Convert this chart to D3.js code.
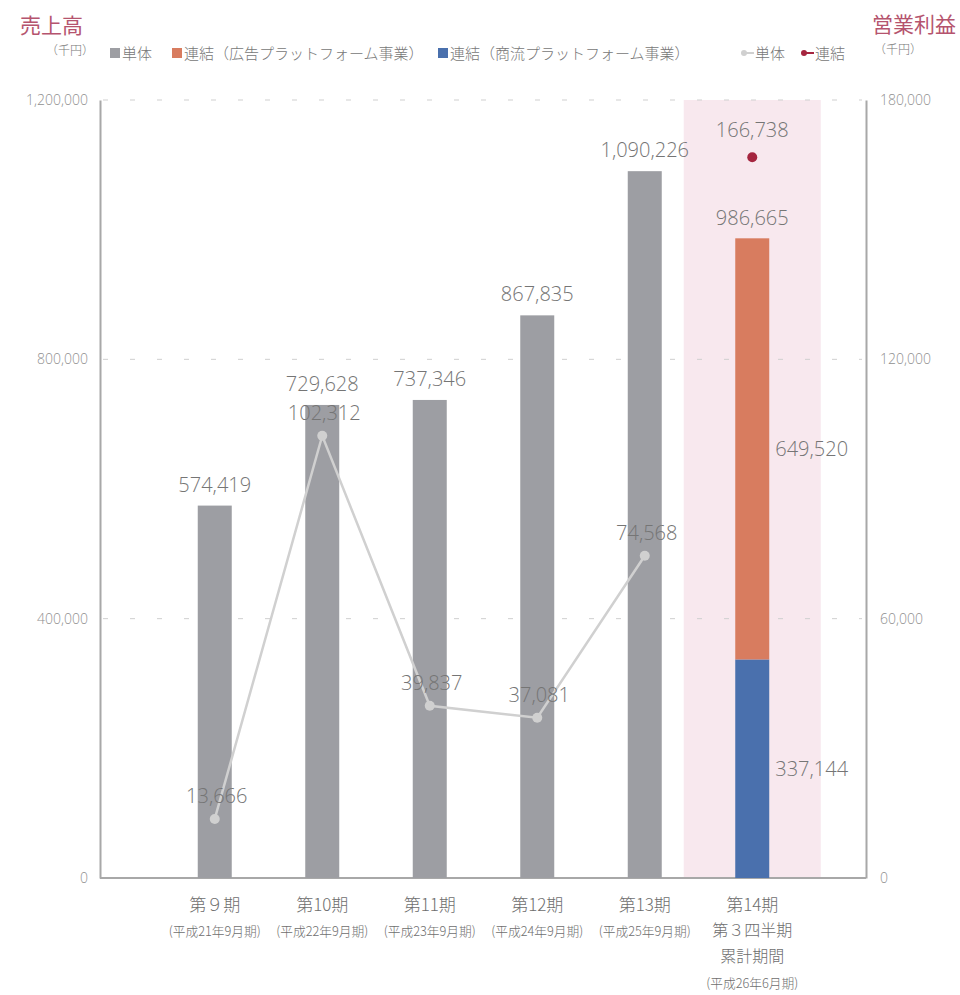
<!DOCTYPE html>
<html>
<head>
<meta charset="utf-8">
<script src="https://cdn.jsdelivr.net/npm/d3@7"></script>
<style>
  body { margin: 0; background: #fff; }
  svg { font-family: "Open Sans", "Noto Sans CJK JP", sans-serif; }
  .jp { font-family: "Noto Sans CJK JP", sans-serif; font-weight: 300; }
  .val { font-weight: 300; }
</style>
</head>
<body>
<svg id="chart" width="960" height="995"></svg>
<script>
// data
var periods = ["第９期", "第10期", "第11期", "第12期", "第13期", "第14期"];
var periodNotes = [
  ["(平成21年9月期)"],
  ["(平成22年9月期)"],
  ["(平成23年9月期)"],
  ["(平成24年9月期)"],
  ["(平成25年9月期)"],
  ["第３四半期", "累計期間", "(平成26年6月期)"]
];
var salesSingle = [574419, 729628, 737346, 867835, 1090226, null];
var salesCommerce = [null, null, null, null, null, 337144];
var salesAd = [null, null, null, null, null, 649520];
var salesTotalLabel = [null, null, null, null, null, "986,665"];
var profitSingle = [13666, 102312, 39837, 37081, 74568, null];
var profitConsol = [null, null, null, null, null, 166738];
var leftTicks = [0, 400000, 800000, 1200000];
var rightTicks = [0, 60000, 120000, 180000];

var colours = {
  single: "#9d9ea3",
  ad: "#d87c5f",
  commerce: "#4a70ad",
  highlight: "#f8e8ee",
  profitSingle: "#d0d0d0",
  profitConsol: "#a5253f",
  title: "#b5546e",
  text: "#757575",
  axis: "#a8a8a8"
}

var svg = d3.select("#chart");
var fmt = d3.format(",");

var x = d3.scalePoint().domain(periods).range([161, 806]).padding(0.5);
var yL = d3.scaleLinear().domain([0, 1200000]).range([878, 100]);
var yR = d3.scaleLinear().domain([0, 180000]).range([878, 100]);
var barW = 34;

// highlight for the current period
svg.append("rect")
  .attr("x", x("第14期") - 68.5)
  .attr("y", yL(1200000))
  .attr("width", 137)
  .attr("height", yL(0) - yL(1200000))
  .attr("fill", colours.highlight);

// grid
svg.selectAll(".grid")
  .data(leftTicks.slice(1))
  .enter()
  .append("line")
  .attr("x1", 103).attr("x2", 862)
  .attr("y1", function (d) { return yL(d) })
  .attr("y2", function (d) { return yL(d) })
  .attr("stroke", "#cfcfcf")
  .attr("stroke-dasharray", "5 22")

// axes
var axisL = svg.append("g").attr("transform", "translate(100,0)")
  .call(d3.axisLeft(yL).tickValues(leftTicks).tickFormat(fmt).tickSize(0).tickPadding(12));
var axisR = svg.append("g").attr("transform", "translate(866,0)")
  .call(d3.axisRight(yR).tickValues(rightTicks).tickFormat(fmt).tickSize(0).tickPadding(14));
[axisL, axisR].forEach(function (a) {
  a.select(".domain").attr("stroke", colours.axis).attr("stroke-width", 2);
  a.selectAll("text").attr("fill", "#909090").style("font-size", "14px")
    .style("font-family", "Open Sans, sans-serif").style("font-weight", 300);
});
svg.append("line").attr("x1", 100).attr("x2", 866)
  .attr("y1", yL(0)).attr("y2", yL(0))
  .attr("stroke", colours.axis).attr("stroke-width", 2);

// bars
svg.selectAll(".barSingle")
  .data(periods.filter(function (d, i) { return salesSingle[i] != null }))
  .enter()
  .append("rect")
  .attr("x", function (d) { return x(d) - barW / 2 })
  .attr("y", function (d) { return yL(salesSingle[periods.indexOf(d)]) })
  .attr("width", barW)
  .attr("height", function (d) { return yL(0) - yL(salesSingle[periods.indexOf(d)]) })
  .attr("fill", colours.single)

periods.forEach(function (p, i) {
  if (salesCommerce[i] == null) return;
  svg.append("rect")
    .attr("x", x(p) - barW / 2).attr("width", barW)
    .attr("y", yL(salesCommerce[i]))
    .attr("height", yL(0) - yL(salesCommerce[i]))
    .attr("fill", colours.commerce);
  svg.append("rect")
    .attr("x", x(p) - barW / 2).attr("width", barW)
    .attr("y", yL(salesCommerce[i] + salesAd[i]))
    .attr("height", yL(salesCommerce[i]) - yL(salesCommerce[i] + salesAd[i]))
    .attr("fill", colours.ad);
  svg.append("text").attr("class", "val")
    .attr("x", x(p) + 23).attr("y", yL(salesCommerce[i] / 2) + 7)
    .attr("fill", colours.text).style("font-size", "20px")
    .text(fmt(salesCommerce[i]));
  svg.append("text").attr("class", "val")
    .attr("x", x(p) + 23).attr("y", yL(salesCommerce[i] + salesAd[i] / 2) + 7)
    .attr("fill", colours.text).style("font-size", "20px")
    .text(fmt(salesAd[i]));
  svg.append("text").attr("class", "val")
    .attr("x", x(p)).attr("y", yL(salesCommerce[i] + salesAd[i]) - 13)
    .attr("text-anchor", "middle")
    .attr("fill", colours.text).style("font-size", "20px")
    .text(salesTotalLabel[i]);
});

// bar labels
periods.forEach(function (p, i) {
  if (salesSingle[i] == null) return;
  svg.append("text").attr("class", "val")
    .attr("x", x(p)).attr("y", yL(salesSingle[i]) - 14)
    .attr("text-anchor", "middle")
    .attr("fill", colours.text).style("font-size", "20px")
    .text(fmt(salesSingle[i]));
});

// profit line (single)
var singlePts = periods.map(function (p, i) { return [p, profitSingle[i]] })
  .filter(function (d) { return d[1] != null });
svg.append("path")
  .datum(singlePts)
  .attr("fill", "none")
  .attr("stroke", colours.profitSingle)
  .attr("stroke-width", 2.5)
  .attr("d", d3.line().x(function (d) { return x(d[0]) }).y(function (d) { return yR(d[1]) }));
svg.selectAll(".ptSingle")
  .data(singlePts)
  .enter()
  .append("circle")
  .attr("cx", function (d) { return x(d[0]) })
  .attr("cy", function (d) { return yR(d[1]) })
  .attr("r", 5)
  .attr("fill", colours.profitSingle)
svg.selectAll(".lblSingle")
  .data(singlePts)
  .enter()
  .append("text")
  .attr("class", "val")
  .attr("x", function (d) { return x(d[0]) + 2 })
  .attr("y", function (d) { return yR(d[1]) - 16 })
  .attr("text-anchor", "middle")
  .attr("fill", colours.text)
  .style("font-size", "20px")
  .text(function (d) { return fmt(d[1]) })

periods.forEach(function (p, i) {
  if (profitConsol[i] == null) return;
  svg.append("circle")
    .attr("cx", x(p)).attr("cy", yR(profitConsol[i]))
    .attr("r", 5).attr("fill", colours.profitConsol);
  svg.append("text").attr("class", "val")
    .attr("x", x(p)).attr("y", yR(profitConsol[i]) - 20)
    .attr("text-anchor", "middle")
    .attr("fill", colours.text).style("font-size", "20px")
    .text(fmt(profitConsol[i]));
});

// x labels
periods.forEach(function (p, i) {
  var g = svg.append("g").attr("class", "jp").attr("fill", "#6e6e6e").attr("text-anchor", "middle");
  g.append("text").attr("x", x(p)).attr("y", 911)
    .style("font-size", "17px").text(p);
  periodNotes[i].forEach(function (n, j) {
    var isLast = j == periodNotes[i].length - 1;
    var t = g.append("text").attr("x", x(p)).attr("y", 936 + j * 26)
      .style("font-size", isLast ? "13px" : "16px").text(n);
    if (isLast) t.attr("textLength", 92).attr("lengthAdjust", "spacingAndGlyphs");
  });
});

// titles
svg.append("text").attr("class", "jp").attr("x", 20).attr("y", 33)
  .attr("fill", colours.title).style("font-size", "21px").style("font-weight", 400).text("売上高");
svg.append("text").attr("class", "jp").attr("x", 46).attr("y", 55)
  .attr("fill", "#777").style("font-size", "12px").text("（千円）");
svg.append("text").attr("class", "jp").attr("x", 872).attr("y", 32)
  .attr("fill", colours.title).style("font-size", "21px").style("font-weight", 400).text("営業利益");
svg.append("text").attr("class", "jp").attr("x", 874).attr("y", 54)
  .attr("fill", "#777").style("font-size", "12px").text("（千円）");

// legend
var legendBars = [
  { x: 110, c: colours.single, t: "単体" },
  { x: 172, c: colours.ad, t: "連結（広告プラットフォーム事業）" },
  { x: 438, c: colours.commerce, t: "連結（商流プラットフォーム事業）" }
];
legendBars.forEach(function (l) {
  svg.append("rect").attr("x", l.x).attr("y", 48).attr("width", 10).attr("height", 10).attr("fill", l.c);
  svg.append("text").attr("class", "jp").attr("x", l.x + 12).attr("y", 59)
    .attr("fill", "#777").style("font-size", "15px").text(l.t);
});
var legendLines = [
  { x: 742, c: colours.profitSingle, t: "単体" },
  { x: 802, c: colours.profitConsol, t: "連結" }
];
legendLines.forEach(function (l) {
  svg.append("line").attr("x1", l.x).attr("x2", l.x + 12).attr("y1", 53).attr("y2", 53)
    .attr("stroke", l.c).attr("stroke-width", 2);
  svg.append("circle").attr("cx", l.x + 2).attr("cy", 53).attr("r", 3).attr("fill", l.c);
  svg.append("text").attr("class", "jp").attr("x", l.x + 13).attr("y", 59)
    .attr("fill", "#777").style("font-size", "15px").text(l.t);
});
</script>
</body>
</html>
